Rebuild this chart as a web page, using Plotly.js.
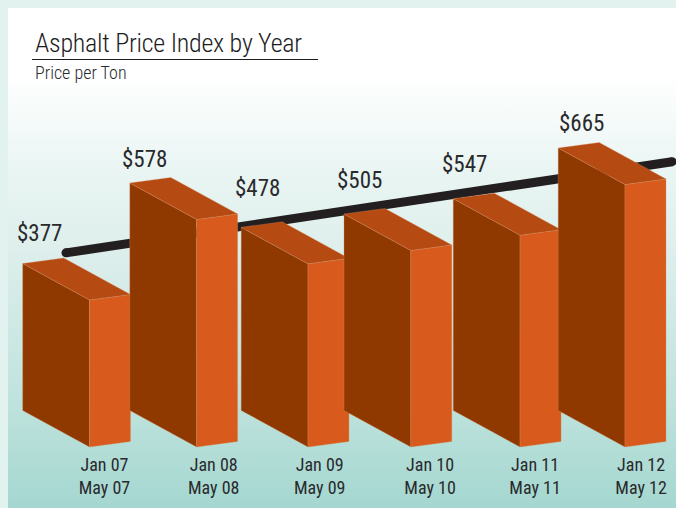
<!DOCTYPE html>
<html><head><meta charset="utf-8">
<script src="https://cdn.plot.ly/plotly-3.0.1.min.js"></script>
<style>
html,body{margin:0;padding:0;background:#e2f2ef;width:676px;height:508px;overflow:hidden}
#panel{position:absolute;left:8px;top:8px;width:668px;height:500px;
background:linear-gradient(to bottom,#ffffff 0,#ffffff 66px,#e9f5f3 165px,#dcEEEb 250px,#c0e3dd 390px,#a4d7d0 500px)}
#chart{position:absolute;left:0;top:0;width:676px;height:508px}
#chart text.gtitle{letter-spacing:-0.25px}
</style></head><body>
<div id="panel"></div><div id="chart"></div>
<script>
// ---- data ----
const tickLabels = ['Jan 07<br>May 07','Jan 08<br>May 08','Jan 09<br>May 09','Jan 10<br>May 10','Jan 11<br>May 11','Jan 12<br>May 12'];
const priceLabels = ['$377','$578','$478','$505','$547','$665'];
const barYears = [2007, 2008, 2009.04, 2010, 2011.02, 2012];
const barTops = [374, 579, 466, 500, 539, 668];
const labelYears = [2007.14, 2008.16, 2009.15, 2010.18, 2011.16, 2012.15];
const trendYears = [2006.78, 2012.44];
const trendValues = [494, 726];

// ---- scales and geometry ----
const W = 676, H = 508, plotH = 452;
const pxPerYear = 107.1, pxPerDollar = 0.393, basePx = 447;
const xRange = [2007 - 89.5 / pxPerYear, 2007 + (W - 89.5) / pxPerYear];
const yRange = [(basePx - plotH) / pxPerDollar, basePx / pxPerDollar];
const dxd = -66.8 / pxPerYear, dyd = 36.5 / pxPerDollar;  // depth vector
const dxw = 41 / pxPerYear, dyw = 5.5 / pxPerDollar;      // width vector
const DARK = '#8f3900', ORANGE = '#d85a1c', TOP = '#b54a12', EDGE = 'rgba(214,140,95,0.55)';
const labelLift = [30, 23, 39, 34, 34, 24];
const labelNudge = [1, -1, 0, -1, -5, 7];
const FONT = '"Roboto Condensed","Liberation Sans",sans-serif', INK = '#2a2a2c';

const face = (xs, ys, fill) => ({type:'scatter', mode:'lines', x:xs, y:ys, fill:'toself', fillcolor:fill,
  line:{color:EDGE, width:0.6}, hoverinfo:'skip', showlegend:false});

const traces = [{type:'scatter', mode:'lines+markers', x:trendYears, y:trendValues,
  line:{color:'#231f20', width:9}, marker:{color:'#231f20', size:9}, hoverinfo:'skip', showlegend:false}];

barYears.forEach((x, i) => {
  const t = barTops[i];
  traces.push(face([x+dxd, x, x, x+dxd, x+dxd], [dyd, 0, t, t+dyd, dyd], DARK));
  traces.push(face([x, x+dxw, x+dxw, x, x], [0, dyw, t+dyw, t, 0], ORANGE));
  traces.push(face([x, x+dxw, x+dxw+dxd, x+dxd, x], [t, t+dyw, t+dyw+dyd, t+dyd, t], TOP));
});

const annotations = priceLabels.map((p, i) => ({
  x: barYears[i] + dxd + 16 / pxPerYear, y: barTops[i] + dyd, xshift: labelNudge[i], yshift: labelLift[i], text: p,
  showarrow:false, xanchor:'center', yanchor:'middle', font:{family:FONT, size:23, color:INK}}));
annotations.push({xref:'paper', yref:'paper', x:33/W, y:1-73/plotH, xanchor:'left', yanchor:'middle',
  text:'Price per Ton', showarrow:false, font:{family:FONT, size:18, weight:300, color:INK}});

Plotly.newPlot('chart', traces, {
  width:W, height:H, margin:{l:0,r:0,t:0,b:H-plotH,pad:0},
  paper_bgcolor:'rgba(0,0,0,0)', plot_bgcolor:'rgba(0,0,0,0)', showlegend:false,
  title:{text:'Asphalt Price Index by Year', xref:'container', yref:'container', x:35/W, xanchor:'left', y:1-42.5/H, yanchor:'middle',
    font:{family:FONT, size:26, weight:300, color:'#1c1c1e'}, pad:{l:0,r:0,t:0,b:0}},
  xaxis:{range:xRange, showgrid:false, zeroline:false, showline:false, ticks:'', tickmode:'array',
    tickvals:labelYears, ticktext:tickLabels, tickangle:0, tickfont:{family:FONT, size:18, color:INK}, fixedrange:true},
  yaxis:{range:yRange, showgrid:false, zeroline:false, showline:false, ticks:'', showticklabels:false, fixedrange:true},
  annotations,
  shapes:[{type:'line', xref:'paper', yref:'paper', x0:32/W, x1:318/W, y0:1-59.5/plotH, y1:1-59.5/plotH, line:{color:'#1c1c1e', width:1}}]
}, {displayModeBar:false, staticPlot:true});
</script></body></html>
